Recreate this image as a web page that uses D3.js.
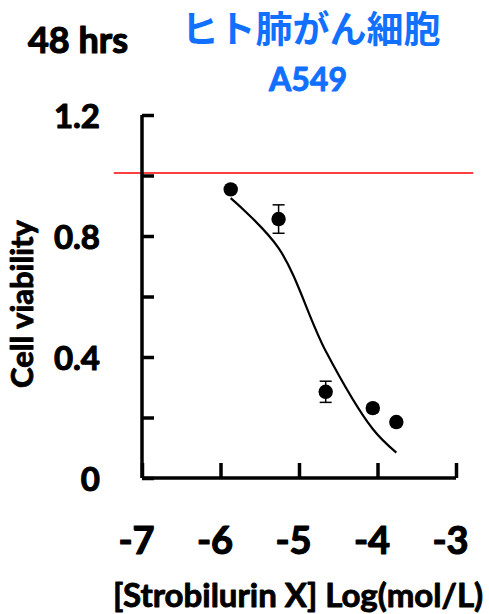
<!DOCTYPE html>
<html>
<head>
<meta charset="utf-8">
<script src="https://cdn.jsdelivr.net/npm/d3@7"></script>
<style>
  html, body { margin: 0; padding: 0; background: #fff; }
  svg { display: block; }
  text { font-family: Lato, "Noto Sans", sans-serif; font-weight: 700; stroke-linejoin: round; }
</style>
</head>
<body>
<div id="chart"></div>
<script>
// Dose–response of A549 cells to Strobilurin X after 48 h
const logDose = [-5.87, -5.26, -4.66, -4.06, -3.76];
const viability = [0.954, 0.856, 0.285, 0.231, 0.185];
const viabilityErr = [0.0, 0.047, 0.035, 0.012, 0.0];
// fitted curve values at the tested doses
const fitted = [0.925, 0.76, 0.42, 0.162, 0.084];
const xTicks = [-7, -6, -5, -4, -3];
const yTicks = [0, 0.2, 0.4, 0.6, 0.8, 1.0, 1.2];
const yTickLabels = [0, 0.4, 0.8, 1.2];
const controlLevel = 1.0;

const W = 489, H = 614;
const blue = "#1170ff";
const svg = d3.select("#chart").append("svg").attr("width", W).attr("height", H);

const x = d3.scaleLinear().domain([-7, -3]).range([142, 456]);
const y = d3.scaleLinear().domain([0, 1.2]).range([478, 115]);

// heavier text weight: fill plus a thin outline of the same colour
function heavy(sel, color, w) {
  return sel.attr("fill", color).attr("stroke", color).attr("stroke-width", w);
}

// control reference line
svg.append("line")
  .attr("x1", x(-7.36)).attr("x2", x(-2.78))
  .attr("y1", y(controlLevel) - 2.5).attr("y2", y(controlLevel) - 2.5)
  .attr("stroke", "#ff0000").attr("stroke-width", 1.3);

// axes
const yAxis = svg.append("g").attr("transform", `translate(${x(-7)},0)`)
  .call(d3.axisRight(y).tickValues(yTicks).tickSize(12).tickFormat(""));
const xAxis = svg.append("g").attr("transform", `translate(0,${y(0)})`)
  .call(d3.axisTop(x).tickValues(xTicks).tickSize(15).tickFormat(""));
[yAxis, xAxis].forEach(g => {
  g.selectAll("path").attr("stroke", "#000").attr("stroke-width", 3.5);
  g.selectAll("line").attr("stroke", "#000").attr("stroke-width", 3.5);
});
yAxis.select(".domain").attr("d", `M0,${y(1.2)}V${y(0)}`);
xAxis.select(".domain").attr("d", `M${x(-7)},0H${x(-3)}`);

// tick labels
heavy(svg.append("g").selectAll("text").data(yTickLabels).join("text")
  .attr("x", 100).attr("y", d => y(d))
  .attr("text-anchor", "end").attr("dominant-baseline", "central")
  .attr("font-size", 33)
  .text(d => d === 0 ? "0" : d3.format(".1f")(d)), "#000", 1.1);

heavy(svg.append("g").selectAll("text").data(xTicks).join("text")
  .attr("x", d => x(d) - 5.5).attr("y", 554)
  .attr("text-anchor", "middle")
  .attr("font-size", 38)
  .text(d => "-" + Math.abs(d)), "#000", 1.2);

// axis titles
heavy(svg.append("text")
  .attr("x", 298).attr("y", 607)
  .attr("text-anchor", "middle").attr("font-size", 33)
  .text("[Strobilurin X] Log(mol/L)"), "#000", 0.9);

heavy(svg.append("text")
  .attr("transform", "translate(33,304) rotate(-90)")
  .attr("text-anchor", "middle").attr("font-size", 31)
  .text("Cell viability"), "#000", 0.9);

// titles
heavy(svg.append("text")
  .attr("x", 78).attr("y", 53)
  .attr("text-anchor", "middle").attr("font-size", 36)
  .text("48 hrs"), "#000", 1.2);

svg.append("text")
  .attr("x", 311).attr("y", 43)
  .attr("text-anchor", "middle").attr("font-size", 37).attr("fill", blue)
  .style("font-family", "'Noto Sans CJK JP', sans-serif").style("font-weight", 700)
  .text("ヒト肺がん細胞");

heavy(svg.append("text")
  .attr("x", 308).attr("y", 91)
  .attr("text-anchor", "middle").attr("font-size", 32)
  .text("A549"), blue, 1.0);

// fitted curve
const fitData = logDose.map((d, i) => [d, fitted[i]]);
svg.append("path")
  .datum(fitData)
  .attr("fill", "none").attr("stroke", "#000").attr("stroke-width", 2.2)
  .attr("d", d3.line().x(d => x(d[0])).y(d => y(d[1])).curve(d3.curveCatmullRom.alpha(0.5)));

// error bars and points
const pts = logDose.map((d, i) => ({ x: d, v: viability[i], e: viabilityErr[i] }));
const eb = svg.append("g").selectAll("g").data(pts.filter(p => p.e > 0)).join("g")
  .attr("stroke", "#000").attr("stroke-width", 1.5);
eb.append("line").attr("x1", p => x(p.x)).attr("x2", p => x(p.x))
  .attr("y1", p => y(p.v + p.e)).attr("y2", p => y(p.v - p.e));
eb.append("line").attr("x1", p => x(p.x) - 6).attr("x2", p => x(p.x) + 6)
  .attr("y1", p => y(p.v + p.e)).attr("y2", p => y(p.v + p.e));
eb.append("line").attr("x1", p => x(p.x) - 6).attr("x2", p => x(p.x) + 6)
  .attr("y1", p => y(p.v - p.e)).attr("y2", p => y(p.v - p.e));

svg.append("g").selectAll("circle").data(pts).join("circle")
  .attr("cx", p => x(p.x)).attr("cy", p => y(p.v)).attr("r", 7.2)
  .attr("fill", "#000");
</script>
</body>
</html>
